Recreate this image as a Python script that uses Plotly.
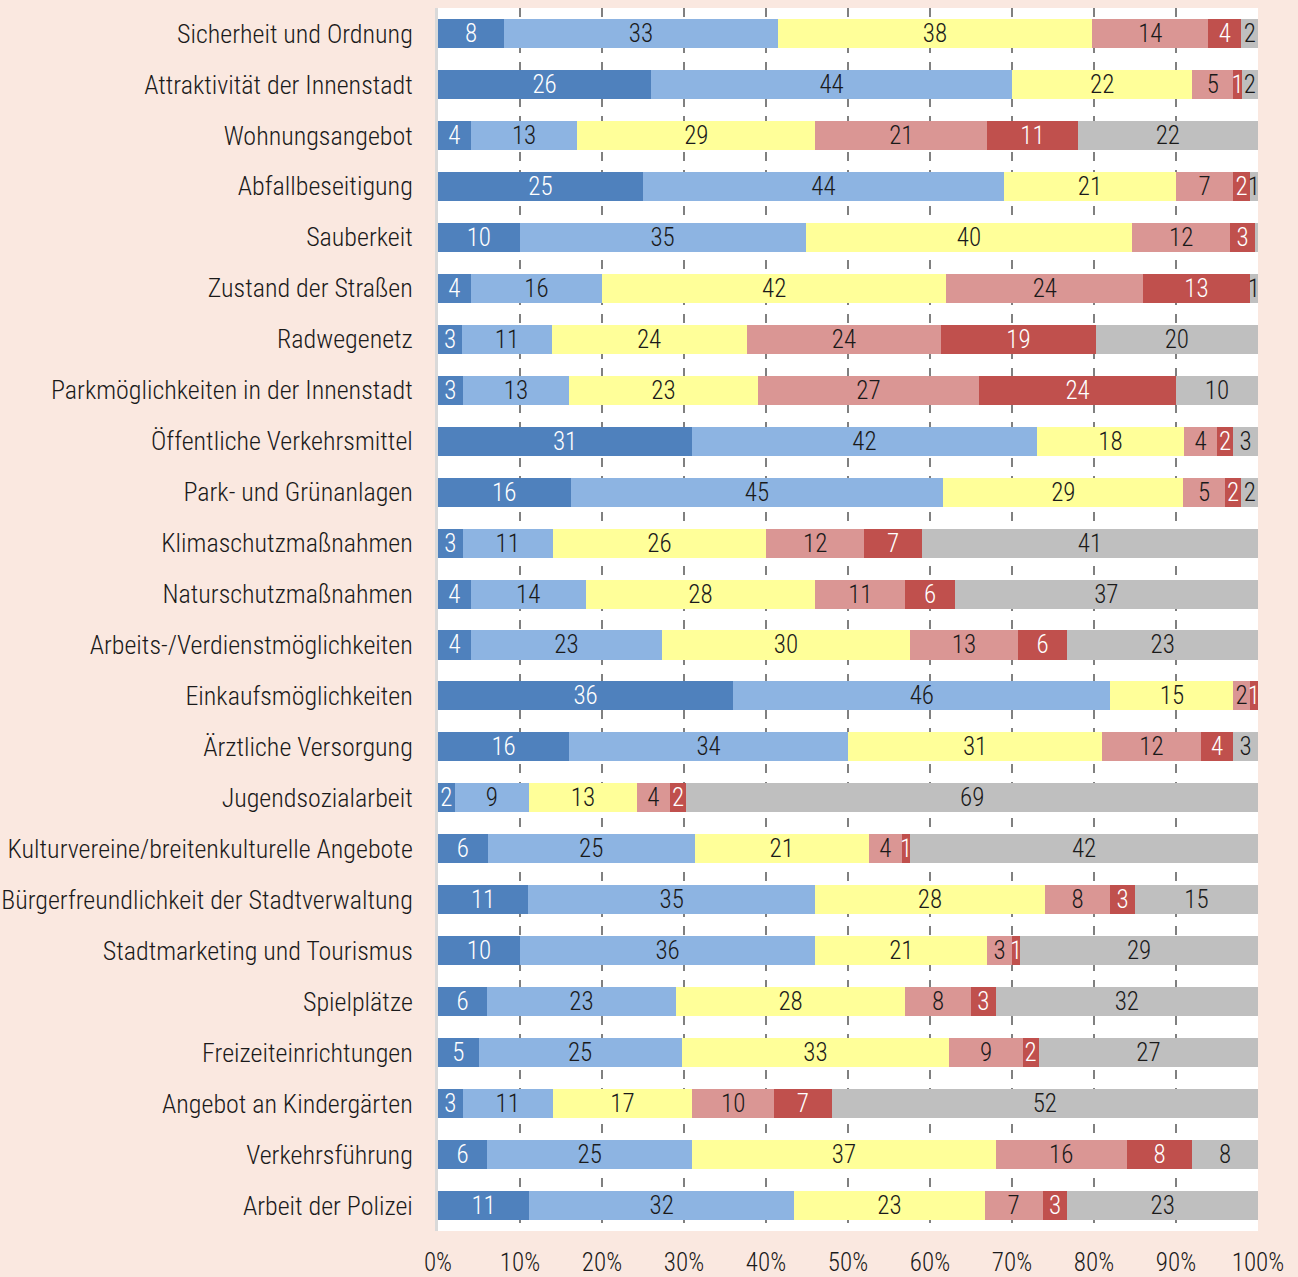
import plotly.graph_objects as go

categories = [
    "Sicherheit und Ordnung", "Attraktivität der Innenstadt", "Wohnungsangebot",
    "Abfallbeseitigung", "Sauberkeit", "Zustand der Straßen", "Radwegenetz",
    "Parkmöglichkeiten in der Innenstadt", "Öffentliche Verkehrsmittel",
    "Park- und Grünanlagen", "Klimaschutzmaßnahmen", "Naturschutzmaßnahmen",
    "Arbeits-/Verdienstmöglichkeiten", "Einkaufsmöglichkeiten", "Ärztliche Versorgung",
    "Jugendsozialarbeit", "Kulturvereine/breitenkulturelle Angebote",
    "Bürgerfreundlichkeit der Stadtverwaltung", "Stadtmarketing und Tourismus",
    "Spielplätze", "Freizeiteinrichtungen", "Angebot an Kindergärten",
    "Verkehrsführung", "Arbeit der Polizei",
]

s1 = [8, 26, 4, 25, 10, 4, 3, 3, 31, 16, 3, 4, 4, 36, 16, 2, 6, 11, 10, 6, 5, 3, 6, 11]
s2 = [33, 44, 13, 44, 35, 16, 11, 13, 42, 45, 11, 14, 23, 46, 34, 9, 25, 35, 36, 23, 25, 11, 25, 32]
s3 = [38, 22, 29, 21, 40, 42, 24, 23, 18, 29, 26, 28, 30, 15, 31, 13, 21, 28, 21, 28, 33, 17, 37, 23]
s4 = [14, 5, 21, 7, 12, 24, 24, 27, 4, 5, 12, 11, 13, 2, 12, 4, 4, 8, 3, 8, 9, 10, 16, 7]
s5 = [4, 1, 11, 2, 3, 13, 19, 24, 2, 2, 7, 6, 6, 1, 4, 2, 1, 3, 1, 3, 2, 7, 8, 3]
s6 = [2, 2, 22, 1, 0.4, 1, 20, 10, 3, 2, 41, 37, 23, 0, 3, 69, 42, 15, 29, 32, 27, 52, 8, 23]
tick_vals = [0, 10, 20, 30, 40, 50, 60, 70, 80, 90, 100]
tick_text = ["0%", "10%", "20%", "30%", "40%", "50%", "60%", "70%", "80%", "90%", "100%"]

series = [s1, s2, s3, s4, s5, s6]
colors = ["#4F81BD", "#8DB4E2", "#FFFF99", "#DA9694", "#C0504D", "#BFBFBF"]
text_colors = ["white", "#1a1a1a", "#1a1a1a", "#1a1a1a", "white", "#1a1a1a"]

# each bar is shown as share of its own total (100 % stacked)
totals = [sum(v) for v in zip(*series)]
shares = [[v / t * 99.999 for v, t in zip(s, totals)] for s in series]

FONT = "Roboto Condensed, Open Sans Condensed, Liberation Sans Narrow, DejaVu Sans Condensed, sans-serif"

fig = go.Figure()
for vals, sh, col, tcol in zip(series, shares, colors, text_colors):
    fig.add_trace(go.Bar(
        y=categories, x=sh, orientation="h",
        marker=dict(color=col, line=dict(width=0)),
        text=[str(int(round(v))) if v >= 0.5 else "" for v in vals],
        textposition="inside", insidetextanchor="middle", textangle=0,
        textfont=dict(color=tcol, size=25, family=FONT, weight=300),
        hoverinfo="skip",
    ))

fig.update_layout(
    barmode="stack", bargap=0.43,
    width=1298, height=1277,
    margin=dict(l=438, r=40, t=8, b=46, autoexpand=False),
    paper_bgcolor="#FAE8E0", plot_bgcolor="white",
    showlegend=False,
    uniformtext=dict(minsize=25, mode="show"),
    font=dict(family=FONT, size=25, color="#1a1a1a", weight=300),
)
fig.update_xaxes(
    range=[0, 100], tickvals=tick_vals, ticktext=tick_text,
    showgrid=True, gridcolor="#808080", gridwidth=2, griddash="dash",
    zeroline=False, showline=False, automargin=False,
    tickfont=dict(size=25, color="#1a1a1a", family=FONT, weight=300),
    ticklabelstandoff=14,
)
fig.update_yaxes(
    autorange="reversed", showgrid=False, automargin=False,
    showline=True, linecolor="#D9D9D9", linewidth=3,
    ticklabelstandoff=17,
    tickfont=dict(size=26, color="#1a1a1a", family=FONT, weight=300),
)

fig.write_html(
    "out.html",
    config={"displayModeBar": False},
    post_script="document.body.style.margin='0';document.body.style.padding='0';",
)
